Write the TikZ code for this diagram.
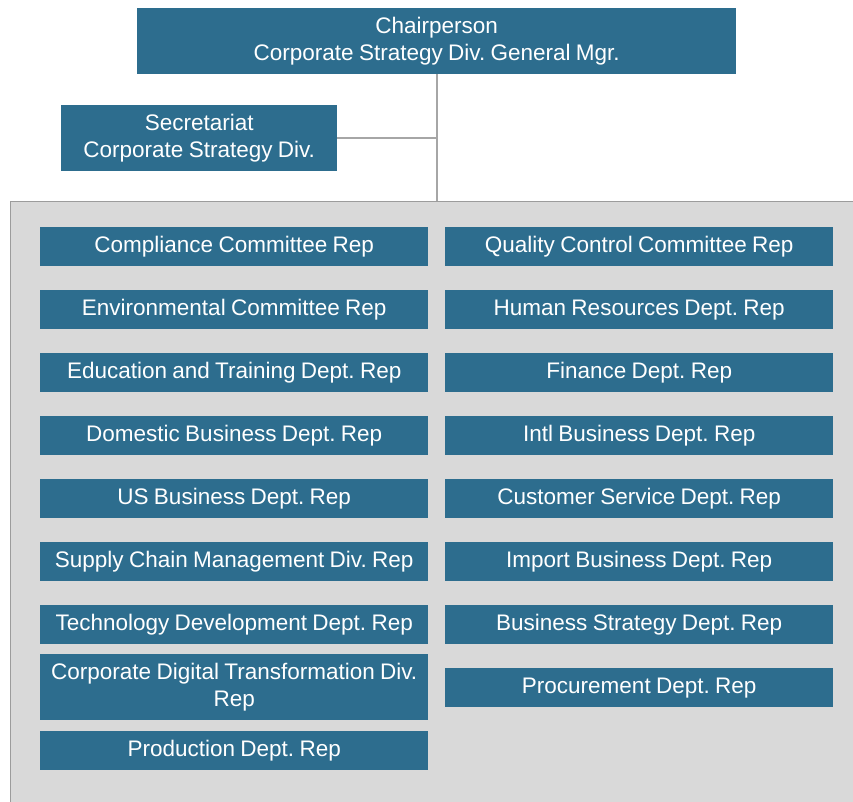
\documentclass[tikz,border=0pt]{standalone}
\usepackage{fontspec}
\setmainfont{Liberation Sans}[WordSpace={0.85,0.5,0.3}]
\frenchspacing
\definecolor{boxblue}{HTML}{2D6D8E}
\definecolor{panelgray}{HTML}{D9D9D9}
\definecolor{panelline}{HTML}{9C9C9C}
\definecolor{linkgray}{HTML}{A6A6A6}
\begin{document}
\begin{tikzpicture}[x=1pt,y=-1pt,
  unit/.style={rectangle, fill=boxblue, text=white, inner sep=0pt, align=center,
    font=\fontsize{22.5}{27}\selectfont\frenchspacing, minimum width=388pt, minimum height=39pt, anchor=north west},
  head/.style={rectangle, fill=boxblue, text=white, inner sep=0pt, align=center,
    font=\fontsize{22.5}{27}\selectfont\frenchspacing, anchor=north west},
  link/.style={draw=linkgray, line width=2pt}]
\useasboundingbox (0,0) rectangle (853,801);
\clip (0,0) rectangle (853,801);
\fill[white] (0,0) rectangle (853,801);
% panel
\node[rectangle, fill=panelgray, draw=panelline, line width=1.2pt, anchor=north west,
  minimum width=860pt, minimum height=620pt, inner sep=0pt] (panel) at (9.5,200.5) {};
% heads
\node[head, minimum width=599pt, minimum height=66pt] (chair) at (137,8) {Chairperson\\Corporate Strategy Div. General Mgr.};
\node[head, minimum width=276pt, minimum height=66pt] (sec) at (61,105) {Secretariat\\Corporate Strategy Div.};
\draw[link] (chair.south) -- (chair.south |- panel.north);
\draw[link] (sec.east) -- (sec.east -| chair.south);
% left column
\node[unit] (l1) at (40,227) {Compliance Committee Rep};
\node[unit] (l2) at (40,290) {Environmental Committee Rep};
\node[unit] (l3) at (40,353) {Education and Training Dept. Rep};
\node[unit] (l4) at (40,416) {Domestic Business Dept. Rep};
\node[unit] (l5) at (40,479) {US Business Dept. Rep};
\node[unit] (l6) at (40,542) {Supply Chain Management Div. Rep};
\node[unit] (l7) at (40,605) {Technology Development Dept. Rep};
\node[unit, minimum height=66pt] (l8) at (40,654) {Corporate Digital Transformation Div.\\Rep};
\node[unit] (l9) at (40,731) {Production Dept. Rep};
% right column
\node[unit] (r1) at (445,227) {Quality Control Committee Rep};
\node[unit] (r2) at (445,290) {Human Resources Dept. Rep};
\node[unit] (r3) at (445,353) {Finance Dept. Rep};
\node[unit] (r4) at (445,416) {Intl Business Dept. Rep};
\node[unit] (r5) at (445,479) {Customer Service Dept. Rep};
\node[unit] (r6) at (445,542) {Import Business Dept. Rep};
\node[unit] (r7) at (445,605) {Business Strategy Dept. Rep};
\node[unit] (r8) at (445,668) {Procurement Dept. Rep};
\end{tikzpicture}
\end{document}
